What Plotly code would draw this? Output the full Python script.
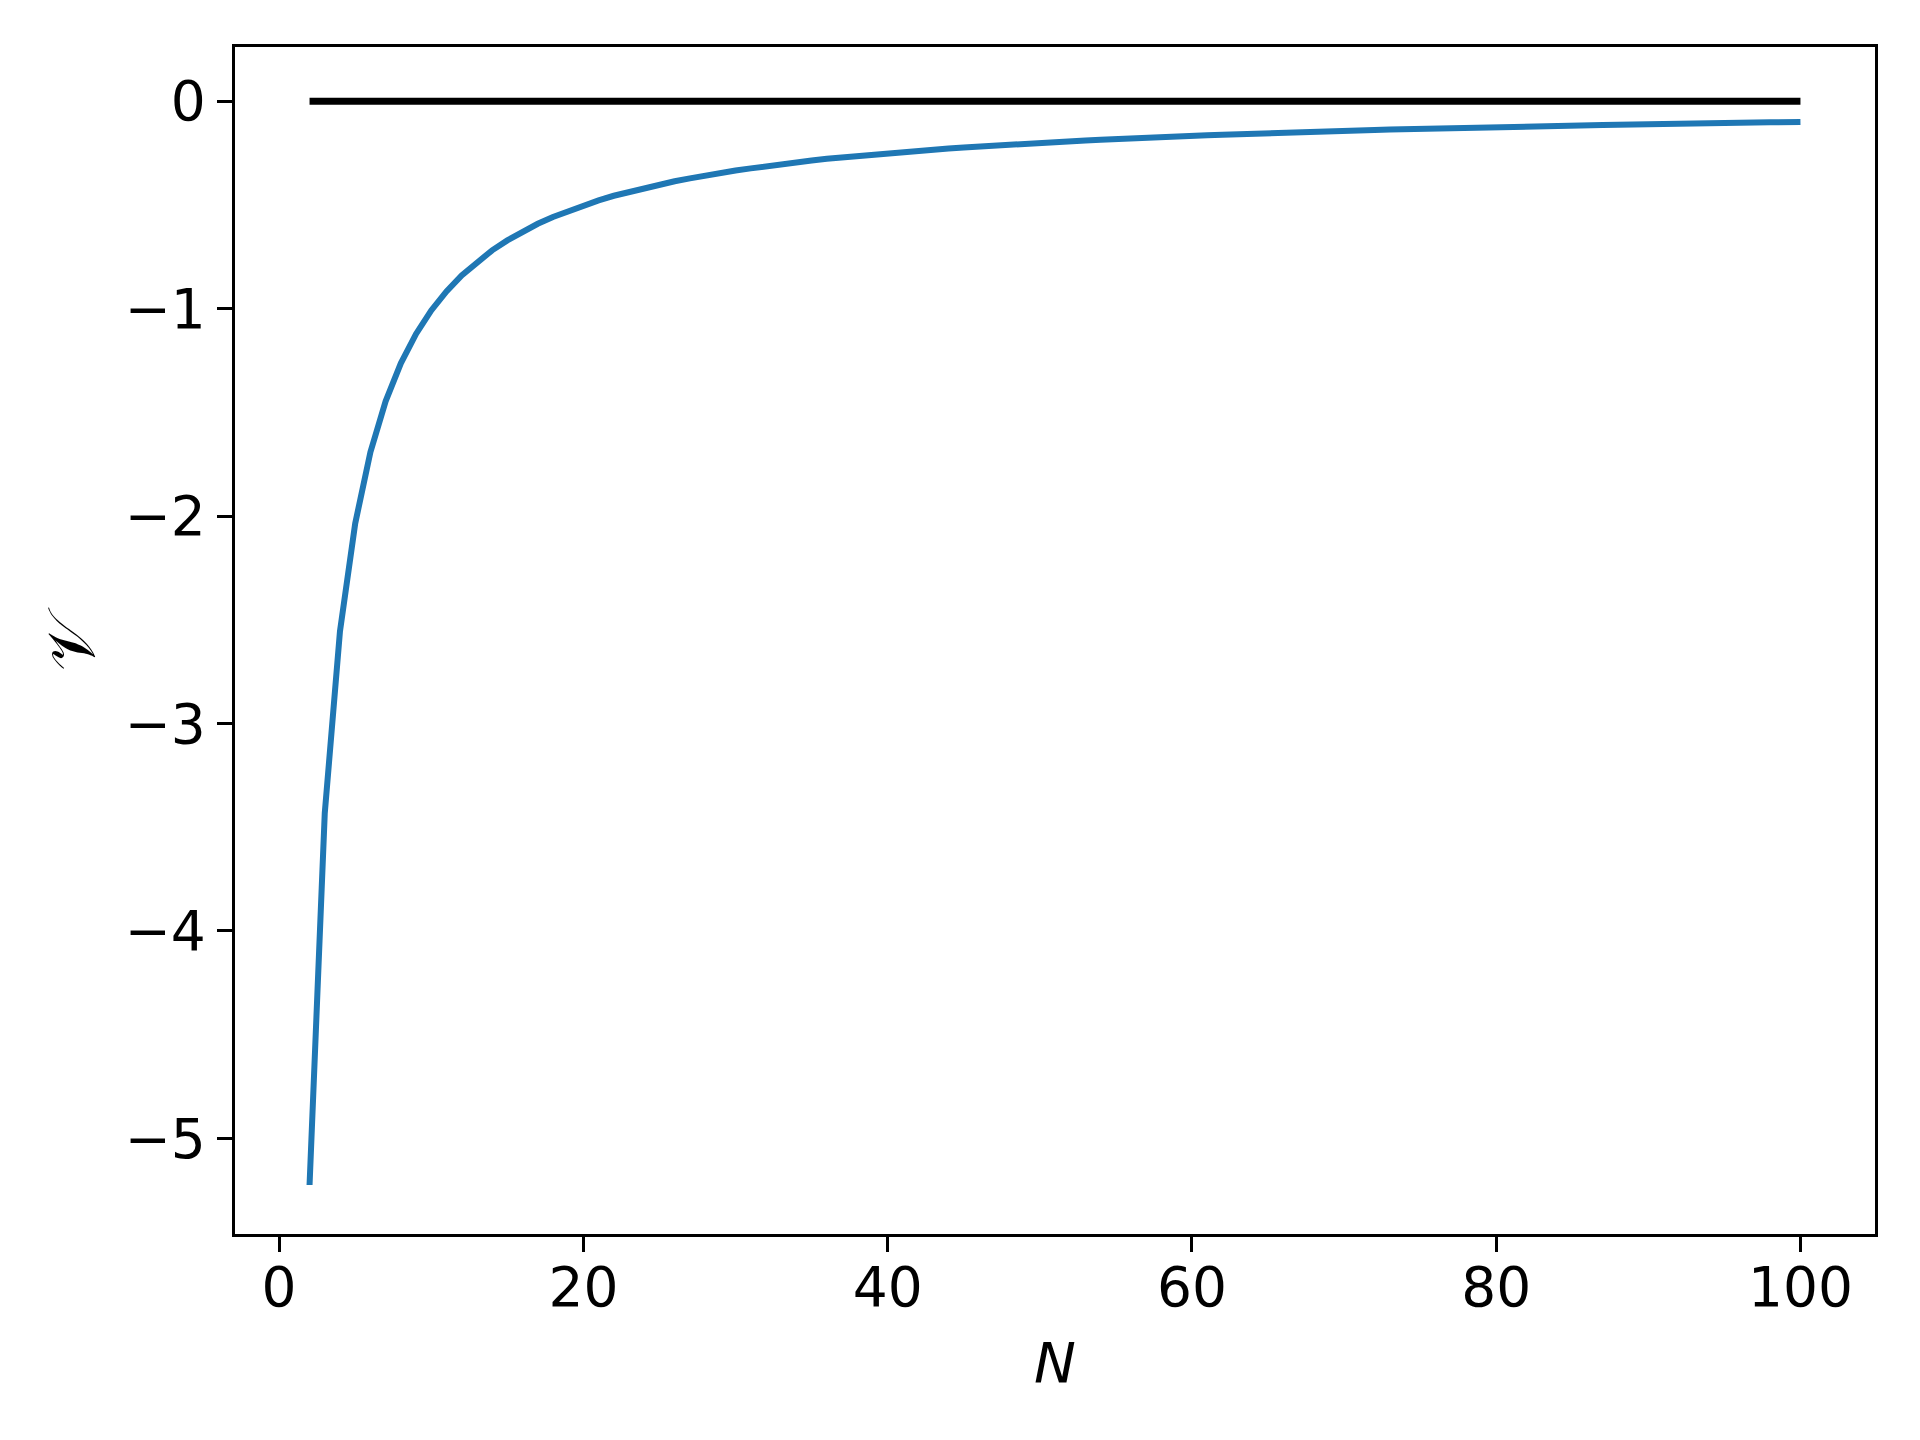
import plotly.graph_objects as go

N = list(range(2, 101))
V = [-5.225, -3.433, -2.556, -2.036, -1.692, -1.447, -1.264, -1.122, -1.009,
     -0.917, -0.840, -0.775, -0.719, -0.671, -0.629, -0.591, -0.558, -0.529, -0.502,
     -0.478, -0.456, -0.437, -0.418, -0.401, -0.386, -0.372, -0.358, -0.346, -0.334,
     -0.324, -0.313, -0.304, -0.295, -0.286, -0.278, -0.271, -0.264, -0.257, -0.251,
     -0.244, -0.239, -0.233, -0.228, -0.223, -0.218, -0.213, -0.209, -0.204, -0.200,
     -0.196, -0.193, -0.189, -0.186, -0.182, -0.179, -0.176, -0.173, -0.170, -0.167,
     -0.164, -0.162, -0.159, -0.156, -0.154, -0.152, -0.149, -0.147, -0.145, -0.143,
     -0.141, -0.139, -0.137, -0.135, -0.134, -0.132, -0.130, -0.128, -0.127, -0.125,
     -0.124, -0.122, -0.121, -0.119, -0.118, -0.116, -0.115, -0.114, -0.112, -0.111,
     -0.110, -0.109, -0.108, -0.106, -0.105, -0.104, -0.103, -0.102, -0.101, -0.100]
ZERO_N = [2, 100]
ZERO_V = [0, 0]

X_TICKS = [0, 20, 40, 60, 80, 100]
X_LABELS = ["0", "20", "40", "60", "80", "100"]
Y_TICKS = [0, -1, -2, -3, -4, -5]
Y_LABELS = ["0", "\u22121", "\u22122", "\u22123", "\u22124", "\u22125"]

fig = go.Figure()
fig.add_trace(go.Scatter(x=ZERO_N, y=ZERO_V, mode="lines",
                         line=dict(color="black", width=7), showlegend=False))
fig.add_trace(go.Scatter(x=N, y=V, mode="lines",
                         line=dict(color="#1f77b4", width=6), showlegend=False))

axis_common = dict(showgrid=False, zeroline=False, showline=True, mirror=True,
                   linecolor="black", linewidth=3.3, ticks="outside",
                   ticklen=15, tickwidth=3.3, tickcolor="black",
                   tickfont=dict(family="DejaVu Sans", size=55, color="black"))

ML, MR, MT, MB = 227, 53, 39, 214
W, H = 1920, 1440

fig.update_layout(
    width=W, height=H,
    margin=dict(l=ML, r=MR, t=MT, b=MB),
    paper_bgcolor="white", plot_bgcolor="white",
    xaxis=dict(range=[-2.9, 104.9], tickvals=X_TICKS, ticktext=X_LABELS,
               ticklabelstandoff=-12, **axis_common),
    yaxis=dict(range=[-5.4612, 0.2612], tickvals=Y_TICKS, ticktext=Y_LABELS,
               ticklabelstandoff=0, **axis_common),
)
plot_w = W - ML - MR
plot_h = H - MT - MB
fig.add_annotation(text="<i>N</i>", xref="paper", yref="paper",
                   x=0.5, y=(1234 - 1362) / plot_h, xanchor="center", yanchor="middle",
                   showarrow=False, font=dict(family="DejaVu Sans", size=56, color="black"))
fig.add_annotation(text="\U0001D4B1", xref="paper", yref="paper",
                   x=(70 - 234) / plot_w, y=(1234 - 639) / plot_h,
                   xanchor="center", yanchor="middle", textangle=-90,
                   showarrow=False, font=dict(family="DejaVu Serif, DejaVu Sans", size=66, color="black"))

fig.write_html("out.html")
